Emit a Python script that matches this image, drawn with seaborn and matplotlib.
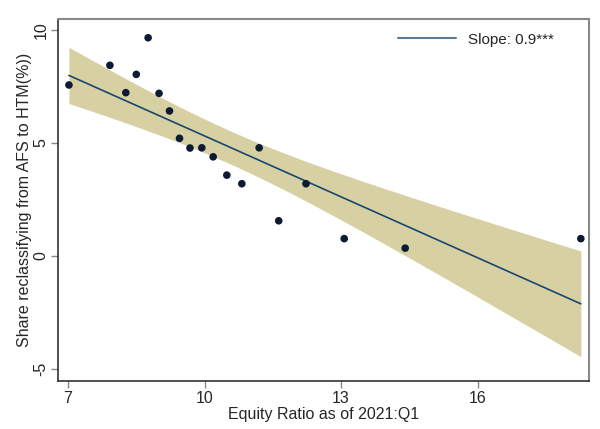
import numpy as np
import pandas as pd
import matplotlib
matplotlib.use("Agg")
import matplotlib.pyplot as plt
import seaborn as sns
from matplotlib.lines import Line2D

equity_ratio = [7.02, 7.92, 8.76, 8.50, 8.27, 9.00, 9.23, 9.45, 9.68, 9.94,
                10.19, 10.49, 10.82, 11.20, 12.23, 11.63, 13.07, 14.41, 18.27]
share_reclass = [7.57, 8.44, 9.66, 8.04, 7.23, 7.20, 6.42, 5.21, 4.78, 4.79,
                 4.39, 3.58, 3.20, 4.79, 3.20, 1.56, 0.77, 0.35, 0.77]
x_ticks = [7, 10, 13, 16]
y_ticks = [-5, 0, 5, 10]
legend_label = "Slope: 0.9***"

df = pd.DataFrame({"x": equity_ratio, "y": share_reclass})

sns.set_style("white")
plt.rcParams["font.family"] = ["Liberation Sans", "DejaVu Sans"]

fig = plt.figure(figsize=(6, 4.29), dpi=100)
ax = fig.add_axes([0.0967, 0.1119, 0.885, 0.8438])

# analytic 95% CI (as Stata lfitci)
x = df["x"].to_numpy(); y = df["y"].to_numpy()
n = len(x)
b1, b0 = np.polyfit(x, y, 1)
resid = y - (b0 + b1 * x)
s = np.sqrt(np.sum(resid**2) / (n - 2))
xg = np.linspace(x.min(), x.max(), 200)
se = s * np.sqrt(1 / n + (xg - x.mean())**2 / np.sum((x - x.mean())**2))
tcrit = 2.1098  # t(0.975, 17)
yhat = b0 + b1 * xg
ax.fill_between(xg, yhat - tcrit * se, yhat + tcrit * se, color="#d6d0a2", lw=0, zorder=1)
fit = pd.DataFrame({"x": xg, "y": yhat})
sns.lineplot(data=fit, x="x", y="y", ax=ax, color="#1a476f", lw=1.2, zorder=2)
sns.scatterplot(data=df, x="x", y="y", ax=ax, color="#0d1a33", s=30, edgecolor="none", zorder=3)

h = [Line2D([0], [0], color="#5a7a96", lw=1.5)]
ax.legend(h, [legend_label], loc="upper right", frameon=False, fontsize=11,
          handlelength=3.8, bbox_to_anchor=(0.96, 1.0), borderaxespad=0.5)

ax.set_xlim(6.78, 18.45)
ax.set_ylim(-5.53, 10.49)
ax.set_xticks(x_ticks)
ax.set_yticks(y_ticks)
ax.set_xticklabels([str(t) for t in x_ticks], fontsize=11.5)
ax.set_yticklabels([str(t) for t in y_ticks], fontsize=11.5, rotation=90, va="center")
ax.tick_params(axis="both", direction="out", length=5, width=1, color="#888888", pad=2, left=True, bottom=True)
ax.set_xlabel("Equity Ratio as of 2021:Q1", fontsize=11.5, labelpad=1)
ax.set_ylabel("Share reclassifying from AFS to HTM(%))", fontsize=11.5, labelpad=1)

for side in ["left", "bottom"]:
    ax.spines[side].set_color("#333333")
    ax.spines[side].set_linewidth(1.2)
for side in ["top", "right"]:
    ax.spines[side].set_color("#888888")
    ax.spines[side].set_linewidth(1.5)
ax.spines["top"].set_visible(True)
ax.spines["right"].set_visible(True)

fig.savefig("out.png", dpi=100)
